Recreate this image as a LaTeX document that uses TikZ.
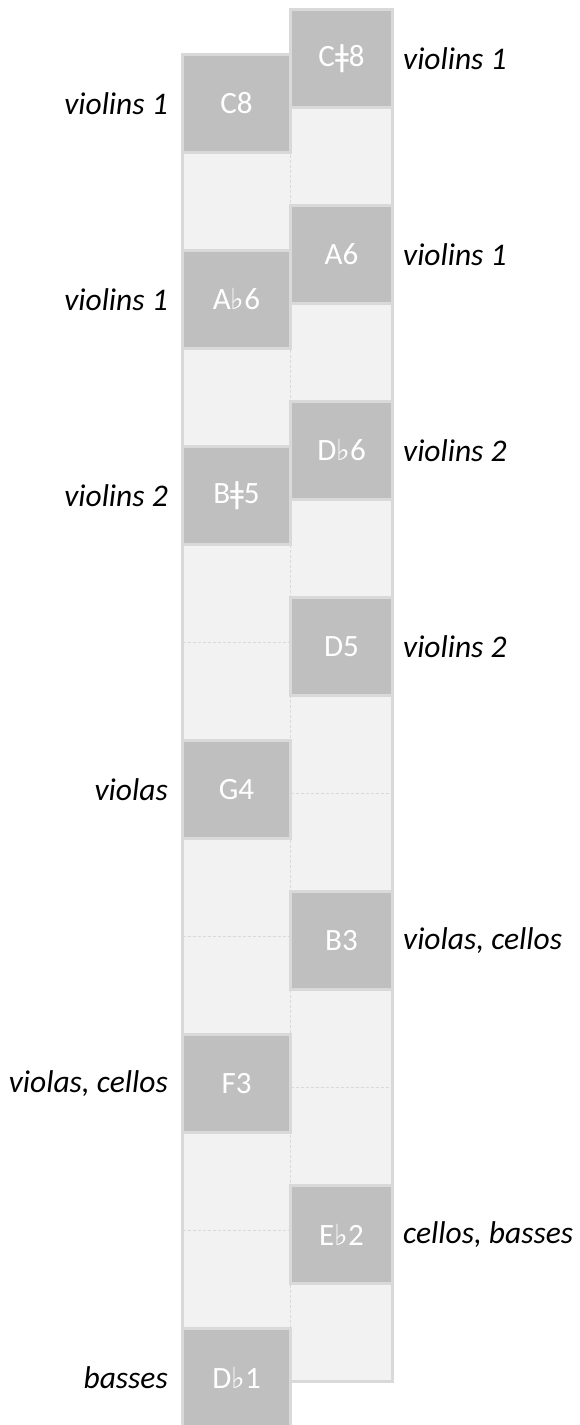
\documentclass[tikz,border=0pt]{standalone}
\usepackage{fontspec}
\setmainfont{Carlito}
\newfontfamily\symfont{DejaVu Sans}
\definecolor{lightcell}{HTML}{F2F2F2}
\definecolor{darkcell}{HTML}{BFBFBF}
\definecolor{edgecol}{HTML}{D9D9D9}
\newcommand\myflat{{\symfont\fontsize{29}{30}\selectfont ♭}}
\newcommand\mysharp{{\symfont\fontsize{30}{30}\selectfont ǂ}}
\begin{document}
\begin{tikzpicture}[x=1pt,y=-1pt,
  cell/.style={rectangle, draw=edgecol, line width=3pt, fill=darkcell, minimum height=98pt,
    inner sep=0pt, text=white, font=\fontsize{31}{33}\selectfont},
  lcell/.style={cell, minimum width=108pt},
  rcell/.style={cell, minimum width=102pt},
  lab/.style={font=\fontsize{31.5}{33}\selectfont\itshape, text=black, inner sep=0pt},
  sepline/.style={draw=edgecol, line width=0.8pt, dash pattern=on 3pt off 2pt},
  outer/.style={draw=edgecol, line width=3pt}]
\useasboundingbox (0,0) rectangle (579,1425);
% light columns
\fill[lightcell] (182.5,54.5) rectangle (290.5,1426.5);
\fill[lightcell] (290.5,9.5) rectangle (392.5,1381.5);
\draw[outer] (182.5,54.5) -- (182.5,1426.5);
\draw[outer] (392.5,9.5) -- (392.5,1381.5) -- (289,1381.5);
% dashed separators
\draw[sepline] (290.5,54.5) -- (290.5,1381.5);
\foreach \y in {642.5,936.5,1230.5} \draw[sepline] (182.5,\y) -- (290.5,\y);
\foreach \y in {793.5,1087.5} \draw[sepline] (290.5,\y) -- (392.5,\y);
% left dark cells (center y = 103.5 + 98 i)
\node[lcell] (c8)  at (236.5,103.5)  {C8};
\node[lcell] (ab6) at (236.5,299.5)  {A\myflat6};
\node[lcell] (bs5) at (236.5,495.5)  {B\mysharp5};
\node[lcell] (g4)  at (236.5,789.5)  {G4};
\node[lcell] (f3)  at (236.5,1083.5) {F3};
\node[lcell] (db1) at (236.5,1377.5) {D\myflat1};
% right dark cells (center y = 58.5 + 98 i)
\node[rcell] (cs8) at (341.5,58.5)   {C\mysharp8};
\node[rcell] (a6)  at (341.5,254.5)  {A6};
\node[rcell] (db6) at (341.5,450.5)  {D\myflat6};
\node[rcell] (d5)  at (341.5,646.5)  {D5};
\node[rcell] (b3)  at (341.5,940.5)  {B3};
\node[rcell] (eb2) at (341.5,1234.5) {E\myflat2};
% left labels
\node[lab, anchor=east] (lc8)  at ([xshift=-13pt]c8.west)  {violins 1};
\node[lab, anchor=east] (lab6) at ([xshift=-13pt]ab6.west) {violins 1};
\node[lab, anchor=east] (lbs5) at ([xshift=-13pt]bs5.west) {violins 2};
\node[lab, anchor=east] (lg4)  at ([xshift=-13pt]g4.west)  {violas};
\node[lab, anchor=east] (lf3)  at ([xshift=-13pt]f3.west)  {violas, cellos};
\node[lab, anchor=east] (ldb1) at ([xshift=-13pt]db1.west) {basses};
% right labels
\node[lab, anchor=west] (lcs8) at ([xshift=9pt]cs8.east) {violins 1};
\node[lab, anchor=west] (la6)  at ([xshift=9pt]a6.east)  {violins 1};
\node[lab, anchor=west] (ldb6) at ([xshift=9pt]db6.east) {violins 2};
\node[lab, anchor=west] (ld5)  at ([xshift=9pt]d5.east)  {violins 2};
\node[lab, anchor=west] (lb3)  at ([xshift=9pt]b3.east)  {violas, cellos};
\node[lab, anchor=west] (leb2) at ([xshift=9pt]eb2.east) {cellos, basses};
\end{tikzpicture}
\end{document}
